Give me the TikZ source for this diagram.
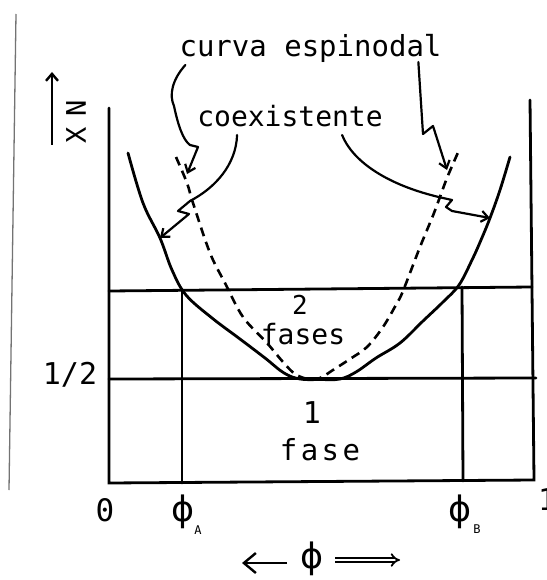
\documentclass[tikz,border=0pt]{standalone}
\usepackage{fontspec}
\setmainfont{DejaVu Sans Mono}
\newfontfamily\phifont{DejaVu Sans}
\usetikzlibrary{arrows.meta}
\tikzset{
  frame/.style={line width=2.8pt, line cap=round},
  coex/.style={line width=2.8pt, line cap=round},
  spin/.style={line width=2.6pt, dash pattern=on 9pt off 6pt},
  leader/.style={line width=2.2pt, line join=round, line cap=round,
    -{Straight Barb[length=7pt,width=11pt]}},
  lbl/.style={inner sep=0pt, font=\fontsize{28}{32}\selectfont},
  sub/.style={inner sep=0pt, font=\fontsize{12}{14}\selectfont},
  phil/.style={inner sep=0pt, font=\phifont\fontsize{35}{38}\selectfont},
}
\begin{document}
\begin{tikzpicture}[x=1pt,y=-1pt]
\useasboundingbox (0,0) rectangle (546,580);
% page edge
\draw[line width=1.3pt, black!55] (16,14) -- (9,490);
% frame
\draw[frame] (109,108) -- (109,483) -- (534,480) -- (530,100);
\draw[frame] (109,291) -- (532,287);
\draw[frame] (109,379) -- (536,378);
\draw[frame] (182,291) -- (182,483);
\draw[frame] (462,287) -- (463,481);
% coexistence curve
\draw[coex] plot[smooth, tension=0.6] coordinates {(128,153) (143,203) (160,238) (172,270) (186,295) (212,318) (240,339) (265,358) (284,373) (300,379) (320,379.5) (340,379) (356,372) (376,358) (400,343) (423,321) (443,302) (459,285) (472,260) (481,240) (490,218) (500,190) (510,157)};
% spinodal curve
\draw[spin] plot[smooth, tension=0.55] coordinates {(176,157) (187,183) (193,203) (210,253) (225,283) (243,317) (267,343) (283,362) (295,374) (308,379) (320,378) (333,370) (350,359) (367,347) (383,327) (397,303) (403,291) (420,247) (434,213) (447,178) (460,148)};
% labels
\node[lbl, font=\fontsize{29}{32}\selectfont, anchor=base] (espin) at (310.5,57) {curva espinodal};
\node[lbl, anchor=base] (coexl) at (290,127) {coexistente};
\node[lbl, font=\fontsize{26}{28}\selectfont] (two) at (300,305) {2};
\node[lbl, anchor=base] (fases) at (303,344) {fases};
\node[lbl, font=\fontsize{30}{32}\selectfont] (one) at (312,413) {1};
\node[lbl, font=\addfontfeature{LetterSpace=12}\fontsize{29}{32}\selectfont, anchor=base] (fase) at (320,460) {fase};
\node[lbl, font=\fontsize{30}{32}\selectfont] (half) at (70,375) {1/2};
\node[lbl, font=\fontsize{31}{32}\selectfont] (zero) at (105,510) {0};
\node[lbl, font=\fontsize{30}{32}\selectfont, anchor=west] (right1) at (538,500) {1};
\node[phil] (phiA) at (183,512) {ϕ};
\node[sub] (subA) at (198,530) {A};
\node[phil] (phiB) at (460,512) {ϕ};
\node[sub] (subB) at (477,529) {B};
\node[phil, font=\phifont\fontsize{35}{38}\selectfont] (phi) at (312,559) {ϕ};
\node[lbl, font=\addfontfeature{LetterSpace=40}\fontsize{27}{30}\selectfont, rotate=90] (xn) at (76,122) {XN};
% axis arrow
\coordinate (ax0) at (52,145);
\coordinate (ax1) at (52,72);
\draw[line width=2.4pt, -{Straight Barb[length=7pt,width=12pt]}] (ax0) -- (ax1);
% phi arrows
\coordinate (la0) at (287,563);
\coordinate (la1) at (242,563);
\coordinate (ra0) at (335,560);
\coordinate (ra1) at (400,560);
\draw[line width=2.4pt, -{Straight Barb[length=12pt,width=20pt]}] (la0) -- (la1);
\draw[line width=1.8pt, double, double distance=2.6pt, -{Implies}] (ra0) -- (ra1);
% leaders
\draw[leader] ([shift={(6,8)}]espin.base west) .. controls (172,80) and (169,95) .. (174,106)
   .. controls (178,125) and (183,140) .. (190,145) -- (198,147) -- (187,174);
\draw[leader] ([shift={(239,5)}]espin.base west) -- (423,134) -- (433,126) -- (447,170);
\draw[leader] ([shift={(40,8)}]coexl.base west) .. controls (236,165) and (215,188) .. (190,201)
   -- (178,211) -- (189,214) -- (160,238);
\draw[leader] ([shift={(145,8)}]coexl.base west) .. controls (352,160) and (385,185) .. (443,198)
   -- (452,200) -- (446,207) -- (452,211) -- (490,218);
\end{tikzpicture}
\end{document}
